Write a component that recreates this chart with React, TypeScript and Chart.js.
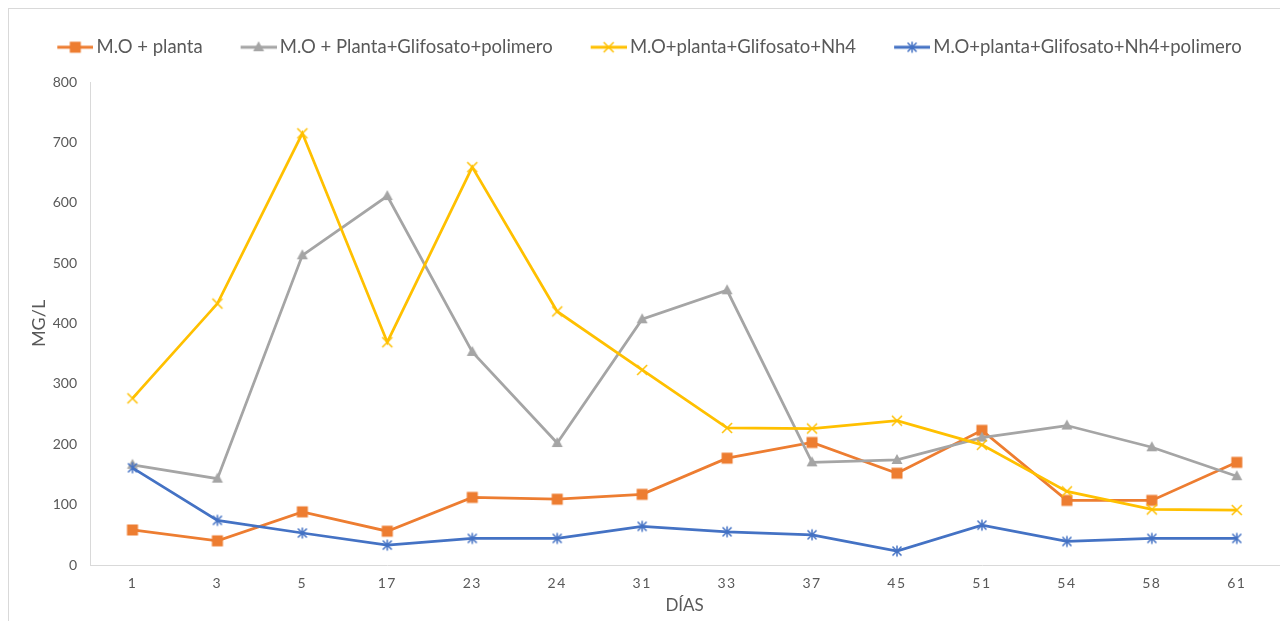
import React, { useEffect, useRef } from 'react';
import { Chart, registerables } from 'chart.js';

Chart.register(...registerables);

// ---- data ----
const days = ['1', '3', '5', '17', '23', '24', '31', '33', '37', '45', '51', '54', '58', '61'];
const seriesNames = [
  'M.O + planta',
  'M.O + Planta+Glifosato+polimero',
  'M.O+planta+Glifosato+Nh4',
  'M.O+planta+Glifosato+Nh4+polimero',
];
const moPlanta = [58, 40, 88, 56, 112, 109, 117, 177, 203, 152, 223, 107, 107, 170];
const moPlantaGliPol = [166, 143, 513, 611, 353, 202, 407, 455, 170, 174, 211, 231, 195, 147];
const moPlantaGliNh4 = [276, 433, 715, 369, 659, 420, 323, 227, 226, 239, 199, 122, 92, 91];
const moPlantaGliNh4Pol = [161, 74, 53, 33, 44, 44, 64, 55, 50, 23, 66, 39, 44, 44];
const yMin = 0;
const yMax = 800;
const yStep = 100;
const xTitle = 'DÍAS';
const yTitle = 'MG/L';

const COLORS = ['#ED7D31', '#A5A5A5', '#FFC000', '#4472C4'];
const MARKERS = ['square', 'triangle', 'x', 'asterisk'];
const FONT = 'Lato, "Open Sans", sans-serif';
const TEXT = '#595959';

function drawMarker(ctx: CanvasRenderingContext2D, kind: string, cx: number, cy: number, color: string) {
  ctx.fillStyle = color;
  ctx.strokeStyle = color;
  ctx.lineCap = 'butt';
  if (kind === 'square') {
    ctx.fillRect(cx - 5.5, cy - 5.5, 11, 11);
  } else if (kind === 'triangle') {
    ctx.beginPath();
    ctx.moveTo(cx, cy - 6);
    ctx.lineTo(cx + 5.5, cy + 4);
    ctx.lineTo(cx - 5.5, cy + 4);
    ctx.closePath();
    ctx.fill();
  } else if (kind === 'x') {
    ctx.lineWidth = 1.5;
    ctx.beginPath();
    ctx.moveTo(cx - 5, cy - 5);
    ctx.lineTo(cx + 5, cy + 5);
    ctx.moveTo(cx + 5, cy - 5);
    ctx.lineTo(cx - 5, cy + 5);
    ctx.stroke();
  } else {
    ctx.lineWidth = 1.5;
    ctx.beginPath();
    ctx.moveTo(cx - 4.5, cy - 4.5);
    ctx.lineTo(cx + 4.5, cy + 4.5);
    ctx.moveTo(cx + 4.5, cy - 4.5);
    ctx.lineTo(cx - 4.5, cy + 4.5);
    ctx.moveTo(cx, cy - 5.5);
    ctx.lineTo(cx, cy + 5.5);
    ctx.stroke();
  }
}

function makePointImage(kind: string, color: string) {
  const c = document.createElement('canvas');
  c.width = 16;
  c.height = 16;
  const ctx = c.getContext('2d')!;
  drawMarker(ctx, kind, 8, 8, color);
  return c;
}

// legend icon: transparent on the left, line + marker on the right
const LEG_W = 39;
const LEG_IW = 51;
function makeLegendImage(kind: string, color: string) {
  const c = document.createElement('canvas');
  c.width = LEG_IW;
  c.height = 16;
  const ctx = c.getContext('2d')!;
  ctx.strokeStyle = color;
  ctx.lineWidth = 3;
  ctx.beginPath();
  ctx.moveTo(LEG_IW - 36, 8);
  ctx.lineTo(LEG_IW, 8);
  ctx.stroke();
  drawMarker(ctx, kind, LEG_IW - 18, 8, color);
  return c;
}

// letter-spaced x tick labels (drawn after datasets, as xaxis ticks have z = 1)
const spacingPlugin = {
  id: 'xTickSpacing',
  afterDatasetsDraw(chart: any) {
    (chart.ctx as any).letterSpacing = '1.5px';
  },
  afterDraw(chart: any) {
    (chart.ctx as any).letterSpacing = '0px';
  },
};

export default function App() {
  const ref = useRef<HTMLCanvasElement | null>(null);

  useEffect(() => {
    if (!ref.current) return;
    const values = [moPlanta, moPlantaGliPol, moPlantaGliNh4, moPlantaGliNh4Pol];
    const legendImgs = MARKERS.map((m, i) => makeLegendImage(m, COLORS[i]));
    const datasets = values.map((v, i) => ({
      label: seriesNames[i],
      data: v,
      borderColor: COLORS[i],
      backgroundColor: COLORS[i],
      borderWidth: 2.75,
      pointStyle: makePointImage(MARKERS[i], COLORS[i]) as any,
      pointRadius: 6,
      tension: 0,
      order: 3 - i,
    }));

    const chart = new Chart(ref.current, {
      type: 'line',
      data: { labels: days, datasets },
      plugins: [spacingPlugin],
      options: {
        animation: false,
        responsive: false,
        events: [],
        layout: { padding: { top: 0, left: 0, right: 7, bottom: 0 } },
        plugins: {
          tooltip: { enabled: false },
          legend: {
            display: true,
            position: 'top',
            labels: {
              usePointStyle: true,
              pointStyleWidth: LEG_W,
              padding: 29,
              color: TEXT,
              font: { family: FONT, size: 18.5 },
              generateLabels: (ch: any) =>
                ch.data.datasets.map((ds: any, i: number) => ({
                  text: ds.label,
                  fillStyle: COLORS[i],
                  strokeStyle: COLORS[i],
                  lineWidth: 0,
                  pointStyle: legendImgs[i],
                  hidden: false,
                  datasetIndex: i,
                  fontColor: TEXT,
                })),
            },
          },
        },
        scales: {
          x: {
            type: 'category',
            position: 'bottom',
            offset: true,
            grid: { display: false, drawTicks: false },
            border: { display: true, color: '#D9D9D9', width: 1 },
            ticks: { color: TEXT, font: { family: FONT, size: 14 }, padding: 10, maxRotation: 0, autoSkip: false, z: 1 },
            title: { display: true, text: xTitle, color: TEXT, font: { family: FONT, size: 17 }, padding: { top: 0, bottom: 5 } },
            afterFit: (s: any) => { s.height = 56; },
          },
          xTop: {
            type: 'category',
            position: 'top',
            display: true,
            grid: { display: false, drawTicks: false },
            border: { display: false },
            ticks: { display: false },
            afterFit: (s: any) => { s.height = 15.5; },
          },
          y: {
            min: yMin,
            max: yMax,
            grid: { display: false, drawTicks: false },
            border: { display: true, color: '#D9D9D9', width: 1 },
            ticks: { stepSize: yStep, color: TEXT, font: { family: FONT, size: 14 }, padding: 13 },
            title: { display: true, text: yTitle, color: TEXT, font: { family: FONT, size: 18 }, padding: { top: 19, bottom: 0 } },
            afterFit: (s: any) => { s.width = 81; },
          },
        },
      } as any,
    });
    return () => chart.destroy();
  }, []);

  return (
    <div
      style={{
        width: 1280,
        height: 613,
        borderTop: '1px solid #D9D9D9',
        borderLeft: '1px solid #D9D9D9',
        boxSizing: 'border-box',
        background: '#fff',
      }}
    >
      <canvas ref={ref} width={1279} height={612} style={{ display: 'block', width: 1279, height: 612 }} />
    </div>
  );
}
